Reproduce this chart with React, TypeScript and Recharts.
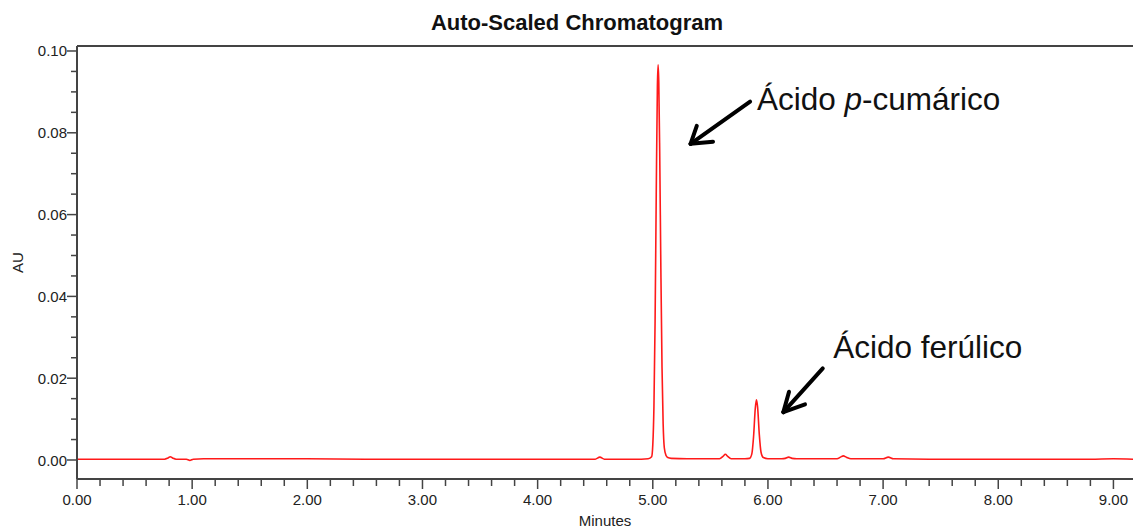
import { LineChart, Line, XAxis, YAxis, ReferenceLine, ReferenceDot } from "recharts"

// retention time (min) and absorbance (AU)
const times = [
  0, 0.3, 0.6, 0.76, 0.79, 0.81, 0.83, 0.86, 0.95, 0.98,
  1.01, 1.1, 1.5, 2.0, 2.5, 3.0, 3.5, 4.0, 4.4, 4.5,
  4.54, 4.58, 4.7, 4.9, 4.96, 4.99, 5.0, 5.01, 5.02, 5.03,
  5.04, 5.046, 5.052, 5.06, 5.07, 5.08, 5.09, 5.1, 5.115, 5.13,
  5.16, 5.3, 5.5, 5.58, 5.61, 5.63, 5.65, 5.68, 5.8, 5.84,
  5.86, 5.875, 5.89, 5.9, 5.91, 5.925, 5.94, 5.96, 6.0, 6.12,
  6.15, 6.18, 6.21, 6.25, 6.45, 6.6, 6.63, 6.655, 6.68, 6.72,
  6.95, 7.0, 7.045, 7.09, 7.4, 7.8, 8.3, 8.8, 9.0, 9.17,
]
const absorbance = [
  0.0002, 0.0002, 0.0002, 0.0002, 0.0005, 0.0008, 0.0005, 0.0002, 0.0002, -0.0001,
  0.0002, 0.0003, 0.0003, 0.0003, 0.0002, 0.0002, 0.0002, 0.0002, 0.0002, 0.0002,
  0.0007, 0.0002, 0.0002, 0.0002, 0.0003, 0.0008, 0.0037, 0.0131, 0.034, 0.065,
  0.0914, 0.0966, 0.0924, 0.0755, 0.047, 0.0228, 0.0088, 0.003, 0.0011, 0.0006,
  0.0004, 0.0003, 0.0003, 0.0003, 0.0009, 0.0014, 0.0009, 0.0003, 0.0003, 0.0004,
  0.0015, 0.0057, 0.0126, 0.0147, 0.013, 0.0062, 0.0019, 0.0006, 0.0003, 0.0003,
  0.0004, 0.0007, 0.0004, 0.0003, 0.0003, 0.0003, 0.0007, 0.001, 0.0007, 0.0003,
  0.0003, 0.0003, 0.0007, 0.0003, 0.0002, 0.0002, 0.0002, 0.0002, 0.0003, 0.0002,
]

const xTicks = [
  0, 0.2, 0.4, 0.6, 0.8, 1, 1.2, 1.4, 1.6, 1.8, 2, 2.2, 2.4, 2.6, 2.8,
  3, 3.2, 3.4, 3.6, 3.8, 4, 4.2, 4.4, 4.6, 4.8, 5, 5.2, 5.4, 5.6, 5.8,
  6, 6.2, 6.4, 6.6, 6.8, 7, 7.2, 7.4, 7.6, 7.8, 8, 8.2, 8.4, 8.6, 8.8, 9,
]
const yTicks = [
  0, 0.005, 0.01, 0.015, 0.02, 0.025, 0.03, 0.035, 0.04, 0.045, 0.05,
  0.055, 0.06, 0.065, 0.07, 0.075, 0.08, 0.085, 0.09, 0.095, 0.1,
]

const xDomain = [0, 9.17]
const yDomain = [-0.004645, 0.10122]

// annotation arrows: shaft + two arms of the open head, in minutes / AU
const arrowCumaric = [
  [{ x: 5.845, y: 0.0876 }, { x: 5.328, y: 0.0773 }],
  [{ x: 5.328, y: 0.0773 }, { x: 5.382, y: 0.0817 }],
  [{ x: 5.328, y: 0.0773 }, { x: 5.523, y: 0.0778 }],
]
const arrowFerulic = [
  [{ x: 6.476, y: 0.0224 }, { x: 6.134, y: 0.0117 }],
  [{ x: 6.134, y: 0.0117 }, { x: 6.183, y: 0.0167 }],
  [{ x: 6.134, y: 0.0117 }, { x: 6.322, y: 0.0136 }],
]
const labelCumaric = { x: 5.905, y: 0.0856 }
const labelFerulic = { x: 6.566, y: 0.0249 }

const data = times.map((t, i) => ({ t, au: absorbance[i] }))

const font = "'Liberation Sans', Arial, sans-serif"
const axisColor = "#444"

function XTick({ x, y, payload }: any) {
  const v = payload.value
  const major = Math.abs(v - Math.round(v)) < 1e-9
  return (
    <g>
      <line x1={x} x2={x} y1={y} y2={y + (major ? 10 : 7)} stroke={axisColor} strokeWidth={1.5} />
      {major && (
        <text x={x} y={y + 26} textAnchor="middle" fontSize={15} fontFamily={font} fill="#222">
          {v.toFixed(2)}
        </text>
      )}
    </g>
  )
}

function YTick({ x, y, payload }: any) {
  const v = payload.value
  const major = Math.abs(v * 50 - Math.round(v * 50)) < 1e-6
  return (
    <g>
      <line x1={x - (major ? 10 : 6)} x2={x} y1={y} y2={y} stroke={axisColor} strokeWidth={1.5} />
      {major && (
        <text x={x - 10} y={y + 5.5} textAnchor="end" fontSize={15} fontFamily={font} fill="#222">
          {v.toFixed(2)}
        </text>
      )}
    </g>
  )
}

export default function App() {
  return (
    <div style={{ position: "relative", width: 1133, height: 529 }}>
      <style>{`body { margin: 0; }`}</style>
      <LineChart
        width={1133}
        height={529}
        data={data}
        margin={{ top: 46, right: 0, bottom: 0, left: 0 }}
      >
        <XAxis
          dataKey="t"
          type="number"
          domain={xDomain}
          allowDataOverflow
          ticks={xTicks}
          interval={0}
          tick={XTick}
          tickLine={false}
          tickSize={0}
          tickMargin={0}
          height={50}
          axisLine={{ stroke: axisColor, strokeWidth: 2 }}
          label={{ value: "Minutes", position: "insideBottom", offset: 3, fontSize: 15, fill: "#222", fontFamily: font }}
        />
        <YAxis
          type="number"
          domain={yDomain}
          allowDataOverflow
          ticks={yTicks}
          interval={0}
          tick={YTick}
          tickLine={false}
          tickSize={0}
          tickMargin={0}
          width={77}
          axisLine={{ stroke: axisColor, strokeWidth: 2 }}
          label={{
            content: (p: any) => {
              const vb = p.viewBox || { x: 0, y: 46, height: 433 }
              const cx = vb.x + 17
              const cy = vb.y + vb.height / 2
              return (
                <text x={cx} y={cy} transform={`rotate(-90 ${cx} ${cy})`} textAnchor="middle" dominantBaseline="central" fontSize={15} fontFamily={font} fill="#222">
                  AU
                </text>
              )
            },
          }}
        />
        <ReferenceLine y={yDomain[1]} stroke={axisColor} strokeWidth={2} />
        <Line
          type="monotone"
          dataKey="au"
          stroke="#ff1a1a"
          strokeWidth={1.6}
          dot={false}
          isAnimationActive={false}
        />
        {[...arrowCumaric, ...arrowFerulic].map((seg, i) => (
          <ReferenceLine key={i} segment={seg} stroke="#000" strokeWidth={4} strokeLinecap="round" />
        ))}
        <ReferenceDot
          x={labelCumaric.x}
          y={labelCumaric.y}
          r={0}
          fill="none"
          stroke="none"
          label={{
            content: (p: any) => (
              <text x={p.viewBox.x} y={p.viewBox.y} fontSize={31.5} fontFamily={font} fill="#111">
                Ácido <tspan fontStyle="italic">p</tspan>-cumárico
              </text>
            ),
          }}
        />
        <ReferenceDot
          x={labelFerulic.x}
          y={labelFerulic.y}
          r={0}
          fill="none"
          stroke="none"
          label={{
            content: (p: any) => (
              <text x={p.viewBox.x} y={p.viewBox.y} fontSize={31.5} fontFamily={font} fill="#111">
                Ácido ferúlico
              </text>
            ),
          }}
        />
      </LineChart>
      <svg width={1133} height={40} style={{ position: "absolute", left: 0, top: 0, pointerEvents: "none" }}>
        <text x={577} y={30} textAnchor="middle" fontSize={22} fontWeight="bold" fontFamily={font} fill="#111">
          Auto-Scaled Chromatogram
        </text>
      </svg>
    </div>
  )
}
